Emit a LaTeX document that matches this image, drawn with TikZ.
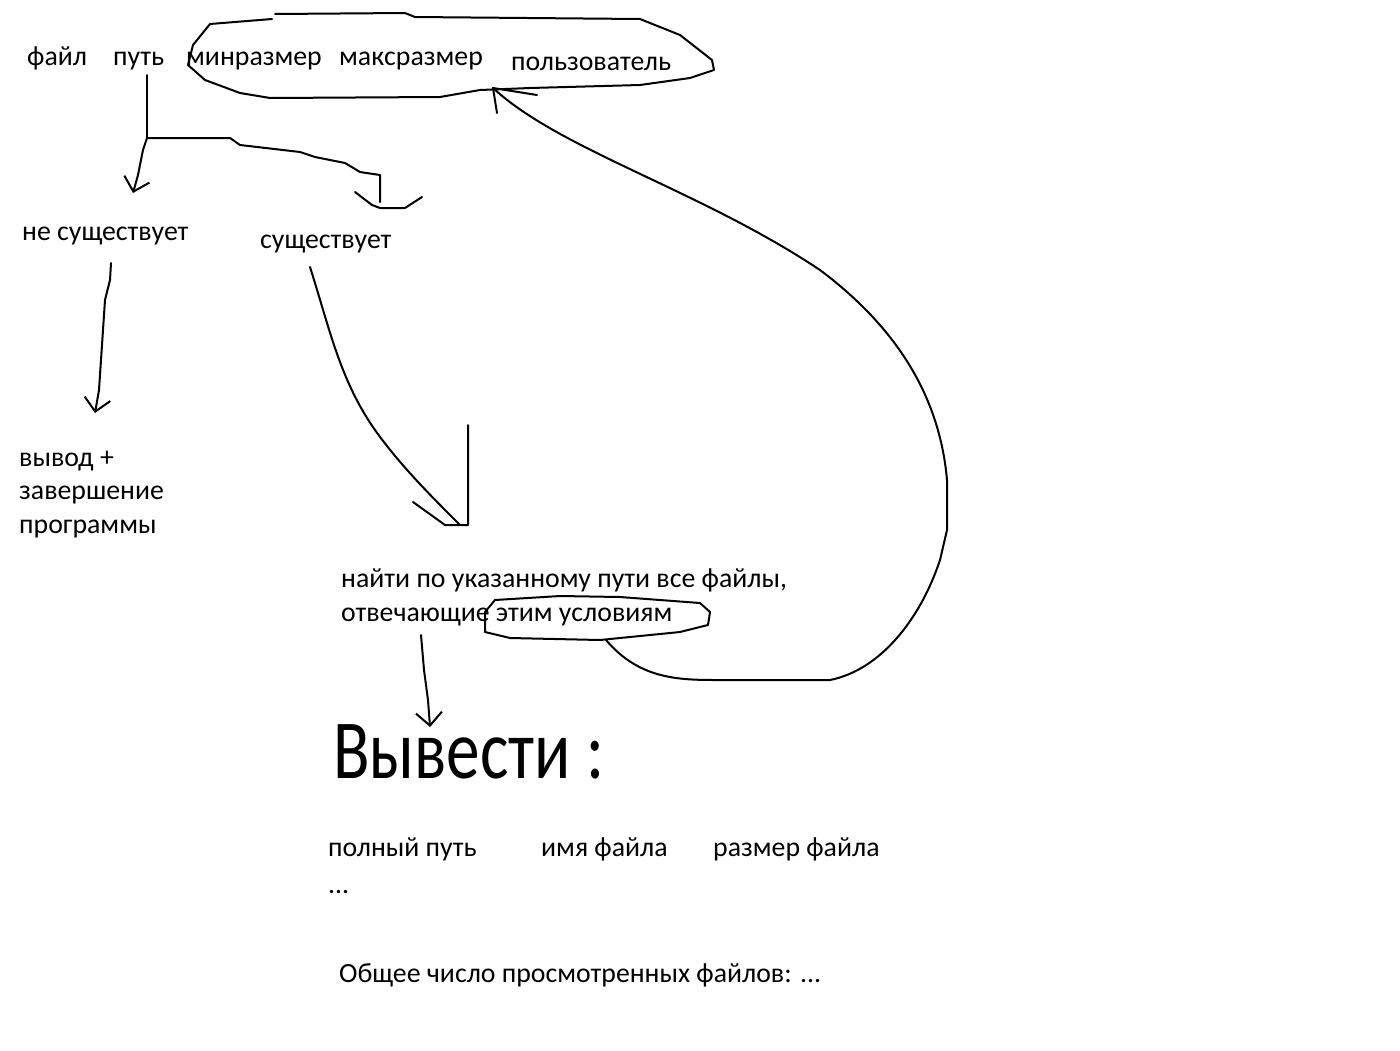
\documentclass[tikz,border=0pt]{standalone}
\usepackage{fontspec}
\setmainfont{Carlito}
\usetikzlibrary{arrows.meta}
\begin{document}
\begin{tikzpicture}[x=1pt,y=-1pt,
        text-node/.style={anchor=base west,inner sep=0pt,font=\fontsize{27.8}{33.5}\selectfont,align=left},
        hand-line/.style={line width=2pt,line join=round,line cap=round},
        hand-arrow/.style={hand-line,-{Straight Barb[length=13pt,width=26pt,line width=2pt]}},
    ]
    \useasboundingbox (0,0) rectangle (1400,1050);
    % texts (base of last line)
    \node[text-node] (file) at (27,65) {файл};
    \node[text-node] (path) at (113,65) {путь};
    \node[text-node] (minsize) at (186,65) {минразмер};
    \node[text-node] (maxsize) at (339,65) {макcразмер};
    \node[text-node] (user) at (511,70) {пользователь};
    \node[text-node] (notexists) at (22,240) {не существует};
    \node[text-node] (exists) at (260,248) {существует};
    \node[text-node] (quit) at (19,533) {вывод +\\завершение\\программы};
    \node[text-node] (search) at (341,621) {найти по указанному пути все файлы,\\отвечающие этим условиям};
    \node[text-node,font=\fontsize{84}{84}\selectfont] (output) at (333,778) {\scalebox{0.8}[1]{Вывести :}};
    \node[text-node] (fullpath) at (328,856) {полный путь};
    \node[text-node] (dots) at (328,893) {...};
    \node[text-node] (filename) at (541,856) {имя файла};
    \node[text-node] (filesize) at (713,856) {размер файла};
    \node[text-node] (total) at (339,982) {Общее число просмотренных файлов: ...};
    % circled user input
    \draw[hand-line] (272,19) -- (210,24) -- (193,45) -- (188,65) -- (205,80) -- (240,93)
        -- (270,98) -- (440,97) -- (480,90) -- (530,88) -- (640,85) -- (690,78) -- (714,70)
        -- (712,60) -- (680,35) -- (640,19) -- (415,17) -- (405,13) -- (275,14);
    \draw[hand-line] (485,612) -- (495,600) -- (560,596) -- (620,597) -- (700,603) -- (710,612)
        -- (708,625) -- (680,632) -- (600,640) -- (510,638) -- (485,632) -- cycle;
    % branches from path
    \coordinate (fork) at (147,138);
    \draw[hand-line] (147,75) -- (fork);
    \draw[hand-arrow] (fork) -- (143,150) -- (138,175) -- (133,193);
    \draw[hand-line] (fork) -- (230,138) -- (240,145) -- (300,152) -- (315,157) -- (345,163)
        -- (360,172) -- (380,175) -- (380,202);
    \draw[hand-line] (355,192) -- (372,205) -- (380,208) -- (405,208) -- (422,197);
    \draw[hand-arrow] (111,263) -- (110,280) -- (105,300) -- (102,345) -- (99,390) -- (95,413);
    \draw[hand-line] (310,267) .. controls (330,330) and (340,380) .. (375,430)
        .. controls (400,465) and (430,495) .. (460,525);
    \draw[hand-line] (468,425) -- (468,525) -- (445,525) -- (413,502);
    \draw[hand-arrow] (421,635) -- (424,670) -- (428,700) -- (430,727);
    % feedback loop to user input
    \draw[hand-line] (606,640) .. controls (640,680) and (680,680) .. (720,680) -- (830,680)
        .. controls (880,670) and (920,620) .. (940,560) -- (947,530) -- (947,480)
        .. controls (940,400) and (900,330) .. (820,270)
        .. controls (700,190) and (560,150) .. (493,88);
    \draw[hand-line] (497,113) -- (493,88) -- (537,95);
\end{tikzpicture}
\end{document}
